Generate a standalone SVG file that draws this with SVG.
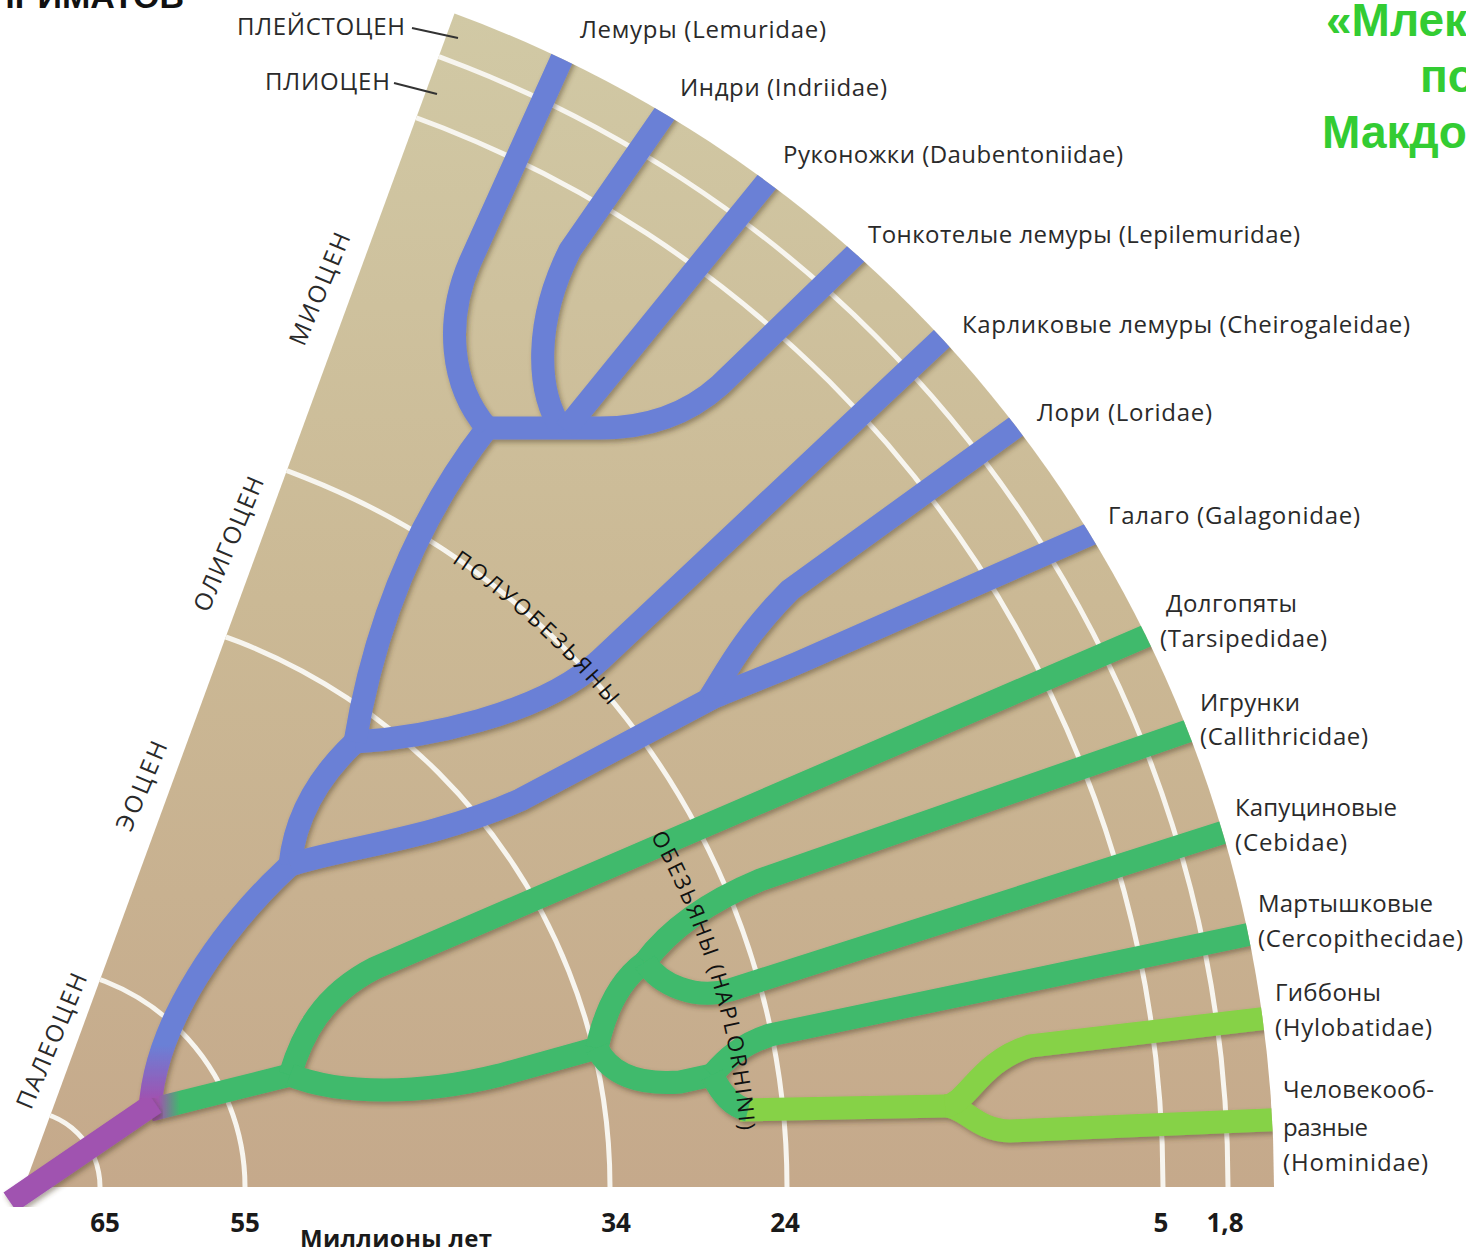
<svg xmlns="http://www.w3.org/2000/svg" width="1466" height="1254" viewBox="0 0 1466 1254">
<defs>
<style>
.lbl{font-family:"Open Sans","DejaVu Sans",sans-serif;font-size:24px;fill:#2a2a2a}
.num{font-family:"Open Sans","DejaVu Sans",sans-serif;font-size:26px;font-weight:bold;fill:#1a1a1a}
.grp{font-family:"Open Sans","DejaVu Sans",sans-serif;font-size:22px;fill:#111}
.ttl{font-family:"Liberation Sans",Arial,sans-serif;font-size:46px;font-weight:bold;fill:#33cc33}
.top{font-family:"Liberation Sans",Arial,sans-serif;font-size:34px;font-weight:bold;fill:#111}
.arc{fill:none;stroke:#f7f5ef;stroke-width:5}
.br{fill:none;stroke-width:23;stroke-linecap:butt;stroke-linejoin:round}
.blue{stroke:#6a80d6}
.green{stroke:#3fba6c}
.lgreen{stroke:#86d246}
.purple{stroke:#a052b0}
.ptr{stroke:#333;stroke-width:2}
</style>
<linearGradient id="tan" x1="0" y1="12" x2="0" y2="1187" gradientUnits="userSpaceOnUse">
<stop offset="0" stop-color="#d1c9a5"/>
<stop offset="0.5" stop-color="#cbb995"/>
<stop offset="1" stop-color="#c5a98b"/>
</linearGradient>
<linearGradient id="pb" x1="0" y1="1100" x2="0" y2="1045" gradientUnits="userSpaceOnUse">
<stop offset="0" stop-color="#a052b0"/><stop offset="1" stop-color="#6a80d6"/>
</linearGradient>
<linearGradient id="pg" x1="158" y1="0" x2="180" y2="0" gradientUnits="userSpaceOnUse">
<stop offset="0" stop-color="#a052b0"/><stop offset="1" stop-color="#3fba6c"/>
</linearGradient>
<clipPath id="sec"><path d="M24,1187 L454.5,13.5 A1250,1250 0 0 1 1274,1187 Z"/></clipPath>
<filter id="sh" x="-5%" y="-5%" width="110%" height="110%">
<feDropShadow dx="2" dy="3" stdDeviation="2.5" flood-color="#4a3a20" flood-opacity="0.45"/>
</filter>
<path id="pPolu" d="M402.5,531.4 A757,757 0 0 1 679.6,808.5"/>
<path id="pHap" d="M612.2,775.2 A718,718 0 0 1 742,1187"/>
</defs>
<rect width="1466" height="1254" fill="#ffffff"/>

<g id="background">
<path d="M24,1187 L454.5,13.5 A1250,1250 0 0 1 1274,1187 Z" fill="url(#tan)"/>
<g clip-path="url(#sec)">
<circle class="arc" cx="24" cy="1187" r="1204"/>
<circle class="arc" cx="24" cy="1187" r="1139"/>
<circle class="arc" cx="24" cy="1187" r="763"/>
<circle class="arc" cx="24" cy="1187" r="586"/>
<circle class="arc" cx="24" cy="1187" r="221"/>
<circle class="arc" cx="24" cy="1187" r="76"/>
</g>
</g>

<g id="connectors">
<g clip-path="url(#sec)" filter="url(#sh)">
<path class="br" stroke="url(#pb)" d="M150,1110 C155,1020 225,925 290,865"/>
<path class="br blue" d="M290,865 C295,815 320,775 355,742"/>
<path class="br blue" d="M290,865 C340,848 430,840 520,800 L712,698"/>
<path class="br blue" d="M712,698 C740,686 770,675 800,662 L1120,521"/>
<path class="br blue" d="M708,700 C722,680 740,640 790,590 L1025,420"/>
<path class="br blue" d="M355,742 C420,738 540,716 600,660 L955,326"/>
<path class="br blue" d="M355,742 Q385,560 487,428"/>
<path class="br blue" d="M487,428 C450,385 445,320 470,262 L568,45"/>
<path class="br blue" d="M487,428 L600,428 C650,428 690,412 720,385 L870,240"/>
<path class="br blue" d="M562,430 C535,390 535,320 570,250 L672,103"/>
<path class="br blue" d="M565,430 L778,168"/>
<path class="br" stroke="url(#pg)" d="M150,1110 L290,1075"/>
<path class="br green" d="M290,1075 C302,1035 322,995 375,968 L1160,630"/>
<path class="br green" d="M290,1075 C340,1095 420,1095 500,1075 L597,1048"/>
<path class="br green" d="M597,1048 C605,1010 620,980 645,962"/>
<path class="br green" d="M645,962 C665,935 700,905 760,880 L1205,725"/>
<path class="br green" d="M645,962 C660,985 695,1000 730,990 L1240,827"/>
<path class="br green" d="M597,1048 C610,1075 640,1085 680,1082 L712,1075"/>
<path class="br green" d="M712,1075 C725,1060 740,1045 770,1035 L1265,931"/>
<path class="br lgreen" d="M740,1110 L945,1106 C965,1106 975,1130 1010,1131 L1290,1119"/>
<path class="br lgreen" d="M945,1106 C968,1104 978,1062 1030,1046 L1285,1016"/>
<path class="br green" d="M712,1075 C722,1095 732,1106 748,1110"/>
</g>
<path class="br purple" filter="url(#sh)" d="M10,1202 L155,1103"/>
</g>

<g id="group-labels">
<text class="grp"><textPath href="#pPolu" startOffset="58" textLength="214" lengthAdjust="spacing">ПОЛУОБЕЗЬЯНЫ</textPath></text>
<text class="grp"><textPath href="#pHap" startOffset="72" textLength="310" lengthAdjust="spacing">ОБЕЗЬЯНЫ (HAPLORHINI)</textPath></text>
</g>

<g id="epochs">
<g id="pleistocene"><text class="lbl" x="237" y="35" textLength="168" lengthAdjust="spacing">ПЛЕЙСТОЦЕН</text><line class="ptr" x1="412" y1="28" x2="458" y2="38"/></g>
<g id="pliocene"><text class="lbl" x="265" y="90" textLength="125" lengthAdjust="spacing">ПЛИОЦЕН</text><line class="ptr" x1="394" y1="83" x2="437" y2="94"/></g>
<g id="miocene"><text class="lbl" transform="translate(320,289) rotate(-67)" x="0" y="8" text-anchor="middle" textLength="120" lengthAdjust="spacing">МИОЦЕН</text></g>
<g id="oligocene"><text class="lbl" transform="translate(229,544) rotate(-67)" x="0" y="8" text-anchor="middle" textLength="144" lengthAdjust="spacing">ОЛИГОЦЕН</text></g>
<g id="eocene"><text class="lbl" transform="translate(142,786) rotate(-67)" x="0" y="8" text-anchor="middle" textLength="95" lengthAdjust="spacing">ЭОЦЕН</text></g>
<g id="paleocene"><text class="lbl" transform="translate(52,1041) rotate(-67)" x="0" y="8" text-anchor="middle" textLength="145" lengthAdjust="spacing">ПАЛЕОЦЕН</text></g>
</g>

<g id="axis">
<text class="num" x="105" y="1232" text-anchor="middle">65</text>
<text class="num" x="245" y="1232" text-anchor="middle">55</text>
<text class="num" x="616" y="1232" text-anchor="middle">34</text>
<text class="num" x="785" y="1232" text-anchor="middle">24</text>
<text class="num" x="1161" y="1232" text-anchor="middle">5</text>
<text class="num" x="1225" y="1232" text-anchor="middle">1,8</text>
<text class="num" x="300" y="1247" style="font-size:24px" textLength="192" lengthAdjust="spacing">Миллионы лет</text>
</g>

<g id="taxon-lemuridae"><text class="lbl" x="580" y="38" textLength="246" lengthAdjust="spacing">Лемуры (Lemuridae)</text></g>
<g id="taxon-indriidae"><text class="lbl" x="680" y="96" textLength="207" lengthAdjust="spacing">Индри (Indriidae)</text></g>
<g id="taxon-daubentoniidae"><text class="lbl" x="783" y="163" textLength="340" lengthAdjust="spacing">Руконожки (Daubentoniidae)</text></g>
<g id="taxon-lepilemuridae"><text class="lbl" x="868" y="243" textLength="432" lengthAdjust="spacing">Тонкотелые лемуры (Lepilemuridae)</text></g>
<g id="taxon-cheirogaleidae"><text class="lbl" x="962" y="333" textLength="448" lengthAdjust="spacing">Карликовые лемуры (Cheirogaleidae)</text></g>
<g id="taxon-loridae"><text class="lbl" x="1037" y="421" textLength="175" lengthAdjust="spacing">Лори (Loridae)</text></g>
<g id="taxon-galagonidae"><text class="lbl" x="1108" y="524" textLength="252" lengthAdjust="spacing">Галаго (Galagonidae)</text></g>
<g id="taxon-tarsipedidae"><text class="lbl" x="1166" y="612" textLength="131" lengthAdjust="spacing">Долгопяты</text><text class="lbl" x="1160" y="647" textLength="167" lengthAdjust="spacing">(Tarsipedidae)</text></g>
<g id="taxon-callithricidae"><text class="lbl" x="1200" y="711" textLength="100" lengthAdjust="spacing">Игрунки</text><text class="lbl" x="1200" y="745" textLength="168" lengthAdjust="spacing">(Callithricidae)</text></g>
<g id="taxon-cebidae"><text class="lbl" x="1235" y="816" textLength="162" lengthAdjust="spacing">Капуциновые</text><text class="lbl" x="1235" y="851" textLength="112" lengthAdjust="spacing">(Cebidae)</text></g>
<g id="taxon-cercopithecidae"><text class="lbl" x="1258" y="912" textLength="175" lengthAdjust="spacing">Мартышковые</text><text class="lbl" x="1258" y="947" textLength="205" lengthAdjust="spacing">(Cercopithecidae)</text></g>
<g id="taxon-hylobatidae"><text class="lbl" x="1275" y="1001" textLength="106" lengthAdjust="spacing">Гиббоны</text><text class="lbl" x="1275" y="1036" textLength="157" lengthAdjust="spacing">(Hylobatidae)</text></g>
<g id="taxon-hominidae"><text class="lbl" x="1283" y="1098" textLength="151" lengthAdjust="spacing">Человекооб-</text><text class="lbl" x="1283" y="1136" textLength="85" lengthAdjust="spacing">разные</text><text class="lbl" x="1283" y="1171" textLength="145" lengthAdjust="spacing">(Hominidae)</text></g>

<g id="titles">
<text class="top" x="184" y="8" text-anchor="end">ПРИМАТОВ</text>
<text class="ttl" x="1326" y="36">«Млек</text>
<text class="ttl" x="1420" y="92">по</text>
<text class="ttl" x="1322" y="148">Макдо</text>
</g>
</svg>
